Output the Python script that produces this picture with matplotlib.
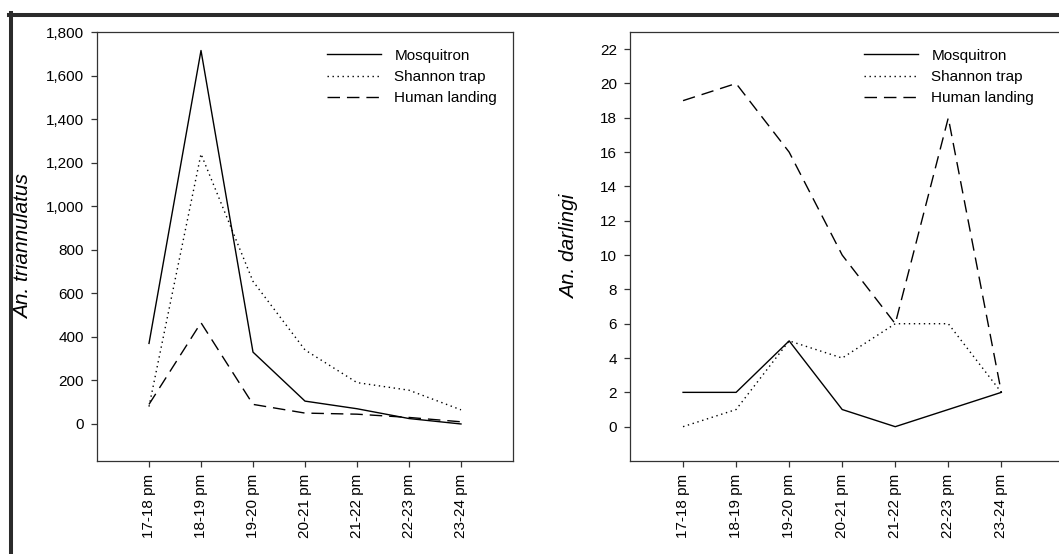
import matplotlib
matplotlib.use("Agg")
import matplotlib.pyplot as plt
from matplotlib.lines import Line2D
from matplotlib.ticker import FuncFormatter

plt.rcParams['font.family'] = ['Liberation Sans', 'DejaVu Sans']

hours = ["17-18 pm", "18-19 pm", "19-20 pm", "20-21 pm", "21-22 pm", "22-23 pm", "23-24 pm"]

# An. triannulatus
tri_mosquitron = [370, 1715, 330, 105, 70, 25, 0]
tri_shannon = [80, 1240, 655, 340, 190, 155, 65]
tri_human = [90, 465, 90, 50, 45, 30, 10]

# An. darlingi
dar_mosquitron = [2, 2, 5, 1, 0, 1, 2]
dar_shannon = [0, 1, 5, 4, 6, 6, 2]
dar_human = [19, 20, 16, 10, 6, 18, 2]

labels = ["Mosquitron", "Shannon trap", "Human landing"]
styles = ["-", (0, (1, 2.6)), (0, (9, 5))]

W, H = 1059, 554
fig = plt.figure(figsize=(W / 100, H / 100), dpi=100)


def px(l, r, t, b):
    return [l / W, (H - b) / H, (r - l) / W, (b - t) / H]


def panel(rect, series, ylim, yticks, ylabel, xlim, leg_x, lpad, comma=False):
    ax = fig.add_axes(rect)
    x = range(len(hours))
    for ys, ls, lab in zip(series, styles, labels):
        ax.plot(x, ys, color="black", linestyle=ls, lw=1.0, label=lab)
    ax.set_xlim(*xlim)
    ax.set_ylim(*ylim)
    ax.set_yticks(yticks)
    if comma:
        ax.yaxis.set_major_formatter(FuncFormatter(lambda v, p: f"{v:,.0f}"))
    ax.set_xticks(list(x))
    ax.set_xticklabels(hours, rotation=90)
    ax.tick_params(direction="out", length=4.5, width=0.9, color="#333333",
                   labelsize=11, pad=5)
    for s in ax.spines.values():
        s.set_color("#333333")
        s.set_linewidth(0.9)
    ax.set_ylabel(ylabel, fontsize=15, style="italic", labelpad=lpad)
    ax.legend(loc="upper left", bbox_to_anchor=(leg_x, 0.961), frameon=False,
              fontsize=11, handlelength=3.5, handletextpad=0.9,
              borderpad=0, borderaxespad=0, labelspacing=0.48)
    return ax


panel(px(97, 513, 32, 461), [tri_mosquitron, tri_shannon, tri_human],
      (-170, 1800), range(0, 1801, 200), "An. triannulatus", (-1, 7), 0.553,
      9, comma=True)
panel(px(630, 1065, 32, 461), [dar_mosquitron, dar_shannon, dar_human],
      (-2, 23), range(0, 23, 2), "An. darlingi", (-1, 7.2), 0.538, 15)

# dark frame around the figure
fig.add_artist(Line2D([10.5 / W, 10.5 / W], [0, (H - 12.5) / H],
                      transform=fig.transFigure, color="#2b2b2b", lw=2.9))
fig.add_artist(Line2D([8.5 / W, 1], [(H - 14.5) / H, (H - 14.5) / H],
                      transform=fig.transFigure, color="#2b2b2b", lw=2.9))

fig.savefig("out.png", dpi=100, facecolor="white")
